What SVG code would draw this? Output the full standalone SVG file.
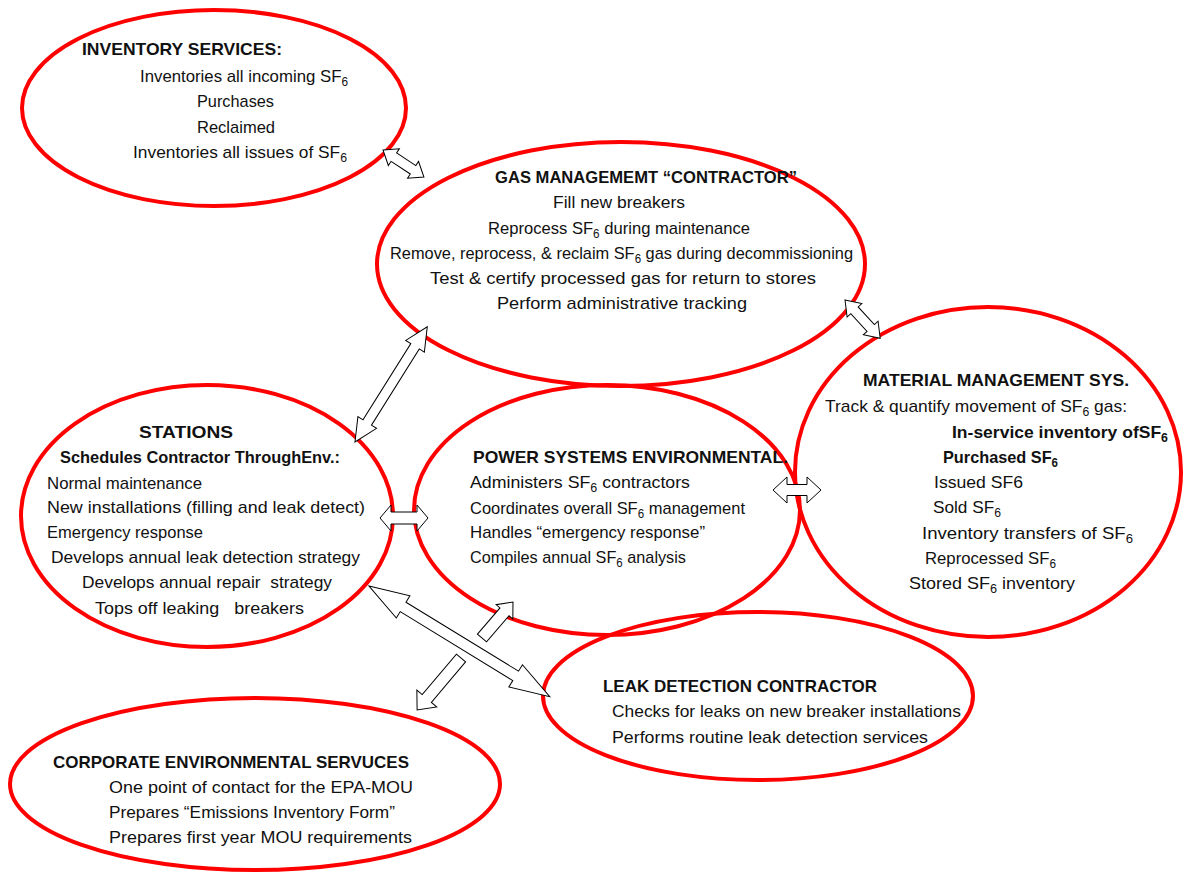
<svg xmlns="http://www.w3.org/2000/svg" width="1183" height="872" viewBox="0 0 1183 872">
  <style>
    .node { fill: none; stroke: #ff0000; stroke-width: 4; }
    .t { font-family: "Liberation Sans", Arial, sans-serif; font-size: 17px; fill: #111; }
    .b { font-weight: bold; }
    .sub { font-size: 12px; }
    .arrow { fill: #ffffff; stroke: #000000; stroke-width: 1; stroke-linejoin: miter; }
  </style>
  <rect width="1183" height="872" fill="#ffffff"/>

  <!-- SF6 subscripts: 'dy' drops the 6 and lifts the baseline back afterwards -->
  <g id="inventory-services">
    <ellipse class="node" cx="214" cy="108" rx="192" ry="98"/>
    <text class="t b" x="82" y="55" textLength="200" lengthAdjust="spacingAndGlyphs">INVENTORY SERVICES:</text>
    <text class="t" x="140" y="82" textLength="208" lengthAdjust="spacingAndGlyphs">Inventories all incoming SF<tspan class="sub" dy="4">6</tspan></text>
    <text class="t" x="197" y="107" textLength="77" lengthAdjust="spacingAndGlyphs">Purchases</text>
    <text class="t" x="197" y="133" textLength="78" lengthAdjust="spacingAndGlyphs">Reclaimed</text>
    <text class="t" x="133" y="158" textLength="214" lengthAdjust="spacingAndGlyphs">Inventories all issues of SF<tspan class="sub" dy="4">6</tspan></text>
  </g>

  <g id="gas-management-contractor">
    <ellipse class="node" cx="621" cy="264" rx="244" ry="122"/>
    <text class="t b" x="495" y="183" textLength="302" lengthAdjust="spacingAndGlyphs">GAS MANAGEMEMT “CONTRACTOR”</text>
    <text class="t" x="553" y="208" textLength="132" lengthAdjust="spacingAndGlyphs">Fill new breakers</text>
    <text class="t" x="488" y="234" textLength="262" lengthAdjust="spacingAndGlyphs">Reprocess SF<tspan class="sub" dy="4">6</tspan><tspan dy="-4"> during maintenance</tspan></text>
    <text class="t" x="390" y="259" textLength="463" lengthAdjust="spacingAndGlyphs">Remove, reprocess, &amp; reclaim SF<tspan class="sub" dy="4">6</tspan><tspan dy="-4"> gas during decommissioning</tspan></text>
    <text class="t" x="430" y="284" textLength="386" lengthAdjust="spacingAndGlyphs">Test &amp; certify processed gas for return to stores</text>
    <text class="t" x="497" y="309" textLength="250" lengthAdjust="spacingAndGlyphs">Perform administrative tracking</text>
  </g>

  <g id="material-management-sys">
    <ellipse class="node" cx="988" cy="472" rx="193" ry="165"/>
    <text class="t b" x="863" y="386" textLength="266" lengthAdjust="spacingAndGlyphs">MATERIAL MANAGEMENT SYS.</text>
    <text class="t" x="825" y="412" textLength="302" lengthAdjust="spacingAndGlyphs">Track &amp; quantify movement of SF<tspan class="sub" dy="4">6</tspan><tspan dy="-4"> gas:</tspan></text>
    <text class="t b" x="952" y="438" textLength="216" lengthAdjust="spacingAndGlyphs">In-service inventory ofSF<tspan class="sub" dy="4">6</tspan></text>
    <text class="t b" x="943" y="463" textLength="115" lengthAdjust="spacingAndGlyphs">Purchased SF<tspan class="sub" dy="4">6</tspan></text>
    <text class="t" x="934" y="488" textLength="89" lengthAdjust="spacingAndGlyphs">Issued SF6</text>
    <text class="t" x="933" y="513" textLength="68" lengthAdjust="spacingAndGlyphs">Sold SF<tspan class="sub" dy="4">6</tspan></text>
    <text class="t" x="922" y="539" textLength="211" lengthAdjust="spacingAndGlyphs">Inventory transfers of SF<tspan class="sub" dy="4">6</tspan></text>
    <text class="t" x="925" y="564" textLength="131" lengthAdjust="spacingAndGlyphs">Reprocessed SF<tspan class="sub" dy="4">6</tspan></text>
    <text class="t" x="909" y="589" textLength="166" lengthAdjust="spacingAndGlyphs">Stored SF<tspan class="sub" dy="4">6</tspan><tspan dy="-4"> inventory</tspan></text>
  </g>

  <g id="stations">
    <ellipse class="node" cx="207" cy="516" rx="186" ry="131"/>
    <text class="t b" x="139" y="438" textLength="94" lengthAdjust="spacingAndGlyphs">STATIONS</text>
    <text class="t b" x="60" y="463" textLength="280" lengthAdjust="spacingAndGlyphs">Schedules Contractor ThroughEnv.:</text>
    <text class="t" x="47" y="489" textLength="155" lengthAdjust="spacingAndGlyphs">Normal maintenance</text>
    <text class="t" x="47" y="513" textLength="318" lengthAdjust="spacingAndGlyphs">New installations (filling and leak detect)</text>
    <text class="t" x="47" y="538" textLength="156" lengthAdjust="spacingAndGlyphs">Emergency response</text>
    <text class="t" x="51" y="563" textLength="309" lengthAdjust="spacingAndGlyphs">Develops annual leak detection strategy</text>
    <text class="t" x="82" y="588" textLength="250" lengthAdjust="spacingAndGlyphs" xml:space="preserve">Develops annual repair  strategy</text>
    <text class="t" x="95" y="614" textLength="209" lengthAdjust="spacingAndGlyphs" xml:space="preserve">Tops off leaking   breakers</text>
  </g>

  <g id="power-systems-environmental">
    <ellipse class="node" cx="607" cy="510" rx="193" ry="125"/>
    <text class="t b" x="473" y="463" textLength="315" lengthAdjust="spacingAndGlyphs">POWER SYSTEMS ENVIRONMENTAL.</text>
    <text class="t" x="470" y="488" textLength="220" lengthAdjust="spacingAndGlyphs">Administers SF<tspan class="sub" dy="4">6</tspan><tspan dy="-4"> contractors</tspan></text>
    <text class="t" x="470" y="514" textLength="275" lengthAdjust="spacingAndGlyphs">Coordinates overall SF<tspan class="sub" dy="4">6</tspan><tspan dy="-4"> management</tspan></text>
    <text class="t" x="470" y="538" textLength="235" lengthAdjust="spacingAndGlyphs">Handles “emergency response”</text>
    <text class="t" x="470" y="563" textLength="216" lengthAdjust="spacingAndGlyphs">Compiles annual SF<tspan class="sub" dy="4">6</tspan><tspan dy="-4"> analysis</tspan></text>
  </g>

  <g id="leak-detection-contractor">
    <ellipse class="node" cx="758" cy="696" rx="215" ry="84"/>
    <text class="t b" x="603" y="692" textLength="274" lengthAdjust="spacingAndGlyphs">LEAK DETECTION CONTRACTOR</text>
    <text class="t" x="612" y="717" textLength="349" lengthAdjust="spacingAndGlyphs">Checks for leaks on new breaker installations</text>
    <text class="t" x="612" y="743" textLength="316" lengthAdjust="spacingAndGlyphs">Performs routine leak detection services</text>
  </g>

  <g id="corporate-environmental-services">
    <ellipse class="node" cx="255" cy="784" rx="245" ry="86"/>
    <text class="t b" x="53" y="768" textLength="356" lengthAdjust="spacingAndGlyphs">CORPORATE ENVIRONMENTAL SERVUCES</text>
    <text class="t" x="109" y="793" textLength="304" lengthAdjust="spacingAndGlyphs">One point of contact for the EPA-MOU</text>
    <text class="t" x="109" y="818" textLength="286" lengthAdjust="spacingAndGlyphs">Prepares “Emissions Inventory Form”</text>
    <text class="t" x="109" y="843" textLength="303" lengthAdjust="spacingAndGlyphs">Prepares first year MOU requirements</text>
  </g>

  <!-- block arrows: drawn along +x from the origin, then placed with translate/rotate -->
  <g id="connectors">
    <polygon class="arrow" transform="translate(383,150) rotate(33.4)" points="0,0 13,-10 13,-5 36,-5 36,-10 49,0 36,10 36,5 13,5 13,10"/>
    <polygon class="arrow" transform="translate(845,300) rotate(47.4)" points="0,0 14,-10 14,-5 38,-5 38,-10 52,0 38,10 38,5 14,5 14,10"/>
    <polygon class="arrow" transform="translate(355,442) rotate(-57.9)" points="0,0 23,-11 23,-5 113,-5 113,-11 136,0 113,11 113,5 23,5 23,11"/>
    <polygon class="arrow" transform="translate(380,518)" points="0,0 11,-13 11,-6 37,-6 37,-13 48,0 37,13 37,6 11,6 11,13"/>
    <polygon class="arrow" transform="translate(773,490)" points="0,0 14,-13 14,-5.5 34,-5.5 34,-13 48,0 34,13 34,5.5 14,5.5 14,13"/>
    <polygon class="arrow" transform="translate(369,586) rotate(31.5)" points="0,0 40,-13 40,-5.5 172,-5.5 172,-13 212,0 172,13 172,5.5 40,5.5 40,13"/>
    <polygon class="arrow" transform="translate(482,638) rotate(-49.3)" points="0,-6 34.5,-6 34.5,-11 47.5,0 34.5,11 34.5,6 0,6"/>
    <polygon class="arrow" transform="translate(461,658) rotate(130.2)" points="0,-6 53,-6 53,-13 68,0 53,13 53,6 0,6"/>
  </g>
</svg>
